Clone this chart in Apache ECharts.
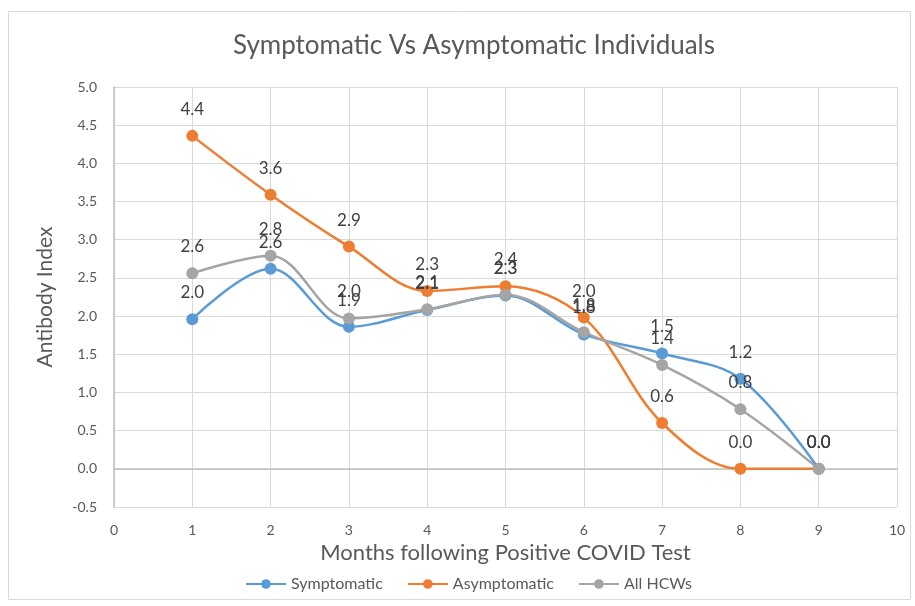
<!DOCTYPE html>
<html>
<head>
<meta charset="utf-8">
<script src="https://cdn.jsdelivr.net/npm/echarts@6/dist/echarts.min.js"></script>
<style>
    html, body { margin: 0; padding: 0; background: #fff; }
    #chart { width: 915px; height: 606px; }
</style>
</head>
<body>
<div id="chart"></div>
<script>
// 数据
var months = [1, 2, 3, 4, 5, 6, 7, 8, 9];
var symptomatic = [1.96, 2.62, 1.86, 2.08, 2.27, 1.76, 1.51, 1.18, 0.0];
var asymptomatic = [4.36, 3.59, 2.91, 2.33, 2.39, 1.98, 0.60, 0.0, 0.0];
var allHCWs = [2.56, 2.79, 1.97, 2.09, 2.28, 1.79, 1.36, 0.78, 0.0];
var yTicks = [-0.5, 5.0];

var font = 'Lato, "Open Sans", sans-serif';

function pairs(vals) {
    return months.map(function (m, i) { return [m, vals[i]]; });
}

function makeSeries(name, vals, color) {
    return {
        name: name,
        type: 'line',
        smooth: 0.35,
        data: pairs(vals),
        symbol: 'circle',
        symbolSize: 12,
        lineStyle: { color: color, width: 2.5 },
        itemStyle: { color: color },
        label: {
            show: true,
            position: 'top',
            distance: 12,
            color: '#404040',
            fontSize: 17,
            fontFamily: font,
            formatter: function (p) { return p.value[1].toFixed(1); }
        }
    };
}

var myChart = echarts.init(document.getElementById('chart'));
var option = {
    animation: false,
    title: {
        text: 'Symptomatic Vs Asymptomatic Individuals',
        left: 469,
        top: 28,
        textAlign: 'center',
        textStyle: { color: '#595959', fontSize: 26, fontWeight: 'normal', fontFamily: font }
    },
    graphic: [{
        type: 'rect',
        shape: { x: 8.5, y: 11.5, width: 902, height: 588 },
        style: { fill: 'none', stroke: '#d9d9d9', lineWidth: 1 },
        silent: true
    }],
    legend: {
        bottom: 9,
        left: 240,
        itemWidth: 40,
        itemHeight: 12,
        itemGap: 24,
        textStyle: { color: '#595959', fontSize: 16, fontFamily: font },
        data: ['Symptomatic', 'Asymptomatic', 'All HCWs']
    },
    grid: { left: 114, right: 18, top: 87, bottom: 99 },
    xAxis: {
        type: 'value',
        min: 0,
        max: 10,
        interval: 1,
        name: 'Months following Positive COVID Test',
        nameLocation: 'middle',
        nameGap: 29,
        nameTextStyle: { color: '#595959', fontSize: 22, fontFamily: font },
        axisLine: { onZero: true, lineStyle: { color: '#bfbfbf', width: 1.5 } },
        axisTick: { show: false },
        axisLabel: { color: '#595959', fontSize: 14, fontFamily: font, margin: 16 },
        splitLine: { show: true, lineStyle: { color: '#d9d9d9', width: 1 } }
    },
    yAxis: {
        type: 'value',
        min: yTicks[0],
        max: yTicks[1],
        interval: 0.5,
        name: 'Antibody Index',
        nameLocation: 'middle',
        nameGap: 58,
        nameTextStyle: { color: '#595959', fontSize: 21, fontFamily: font },
        axisLine: { show: true, lineStyle: { color: '#bfbfbf', width: 1.5 } },
        axisTick: { show: false },
        axisLabel: {
            color: '#595959', fontSize: 14, fontFamily: font, margin: 17,
            formatter: function (v) { return v.toFixed(1); }
        },
        splitLine: { show: true, lineStyle: { color: '#d9d9d9', width: 1 } }
    },
    series: [
        makeSeries('Symptomatic', symptomatic, '#5B9BD5'),
        makeSeries('Asymptomatic', asymptomatic, '#ED7D31'),
        makeSeries('All HCWs', allHCWs, '#A5A5A5')
    ]
};
myChart.setOption(option);
</script>
</body>
</html>
